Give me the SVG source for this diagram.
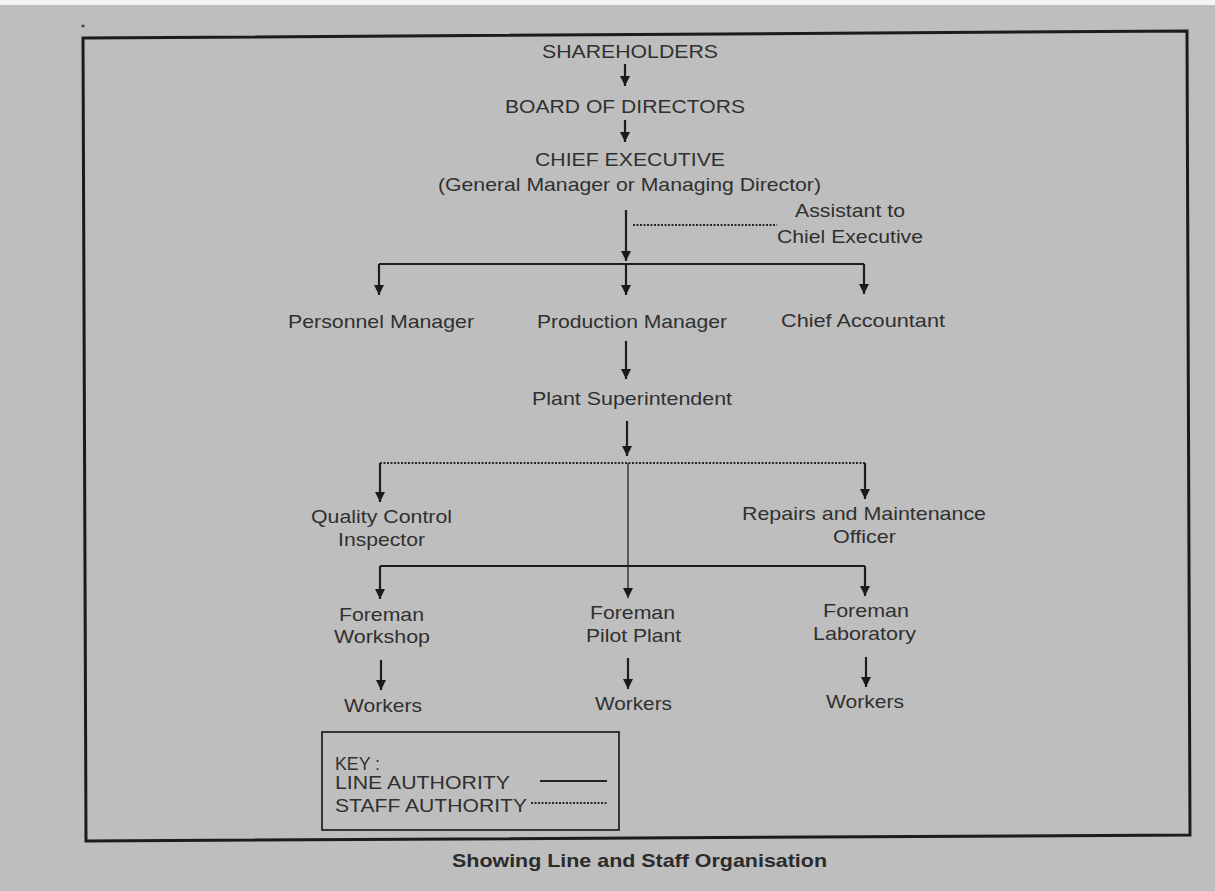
<svg xmlns="http://www.w3.org/2000/svg" width="1215" height="891" viewBox="0 0 1215 891">
<defs>
<marker id="ah" viewBox="0 0 10 10" refX="10" refY="5" markerUnits="userSpaceOnUse" markerWidth="10" markerHeight="10" orient="auto">
<path d="M0,0 L10,5 L0,10 z" fill="#1a1a1a"/>
</marker>
<style>
text{font-family:"Liberation Sans",Arial,sans-serif;font-size:18.5px;fill:#303030}
.cap{font-weight:bold;font-size:18.5px;fill:#2b2b2b}
.ln{stroke:#1e1e1e;stroke-width:2.2;fill:none}
.thin{stroke:#262626;stroke-width:1.3;fill:none}
.dot{stroke:#2a2a2a;stroke-width:2;stroke-dasharray:2 1.5;fill:none}
.arr{marker-end:url(#ah)}
.frame{fill:none;stroke:#1c1c1c;stroke-width:3}
</style>
</defs>
<rect x="0" y="0" width="1215" height="891" fill="#bebebe"/>
<rect x="0" y="0" width="1215" height="5" fill="#f4f4f4"/>
<circle cx="83" cy="26" r="1.6" fill="#444"/>
<polygon class="frame" points="83,38 1187,31 1190,835 86,841"/>

<g id="connectors">
<line class="ln arr" x1="625" y1="64" x2="625" y2="86"/>
<line class="ln arr" x1="625" y1="120" x2="625" y2="142"/>
<line class="ln arr" x1="626" y1="210" x2="626" y2="261"/>
<line class="dot" x1="633" y1="225" x2="777" y2="225"/>
<line class="ln" x1="379" y1="264" x2="864" y2="264"/>
<line class="ln arr" x1="379" y1="264" x2="379" y2="295"/>
<line class="ln arr" x1="626" y1="264" x2="626" y2="295"/>
<line class="ln arr" x1="864" y1="264" x2="864" y2="294"/>
<line class="ln arr" x1="626" y1="341" x2="626" y2="379"/>
<line class="ln arr" x1="627" y1="421" x2="627" y2="456"/>
<line class="dot" x1="380" y1="463" x2="865" y2="463"/>
<line class="ln arr" x1="380" y1="463" x2="380" y2="502"/>
<line class="ln arr" x1="865" y1="463" x2="865" y2="499"/>
<line class="thin arr" x1="628" y1="463" x2="628" y2="598"/>
<line class="ln" x1="380" y1="566" x2="865" y2="566"/>
<line class="ln arr" x1="380" y1="566" x2="380" y2="599"/>
<line class="ln arr" x1="865" y1="566" x2="865" y2="596"/>
<line class="ln arr" x1="381" y1="660" x2="381" y2="690"/>
<line class="ln arr" x1="628" y1="658" x2="628" y2="689"/>
<line class="ln arr" x1="866" y1="657" x2="866" y2="687"/>
</g>

<g id="shareholders"><text x="542" y="58" textLength="176" lengthAdjust="spacingAndGlyphs">SHAREHOLDERS</text></g>
<g id="board"><text x="505" y="113" textLength="240" lengthAdjust="spacingAndGlyphs">BOARD OF DIRECTORS</text></g>
<g id="chief-executive">
<text x="535" y="166" textLength="190" lengthAdjust="spacingAndGlyphs">CHIEF EXECUTIVE</text>
<text x="438" y="191" textLength="383" lengthAdjust="spacingAndGlyphs">(General Manager or Managing Director)</text>
</g>
<g id="assistant">
<text x="795" y="217" textLength="110" lengthAdjust="spacingAndGlyphs">Assistant to</text>
<text x="777" y="243" textLength="146" lengthAdjust="spacingAndGlyphs">Chiel Executive</text>
</g>
<g id="personnel-manager"><text x="288" y="328" textLength="186" lengthAdjust="spacingAndGlyphs">Personnel Manager</text></g>
<g id="production-manager"><text x="537" y="328" textLength="190" lengthAdjust="spacingAndGlyphs">Production Manager</text></g>
<g id="chief-accountant"><text x="781" y="327" textLength="164" lengthAdjust="spacingAndGlyphs">Chief Accountant</text></g>
<g id="plant-superintendent"><text x="532" y="405" textLength="200" lengthAdjust="spacingAndGlyphs">Plant Superintendent</text></g>
<g id="quality-control">
<text x="311" y="523" textLength="141" lengthAdjust="spacingAndGlyphs">Quality Control</text>
<text x="338" y="546" textLength="87" lengthAdjust="spacingAndGlyphs">Inspector</text>
</g>
<g id="repairs">
<text x="742" y="520" textLength="244" lengthAdjust="spacingAndGlyphs">Repairs and Maintenance</text>
<text x="833" y="543" textLength="63" lengthAdjust="spacingAndGlyphs">Officer</text>
</g>
<g id="foreman-workshop">
<text x="339" y="621" textLength="85" lengthAdjust="spacingAndGlyphs">Foreman</text>
<text x="334" y="643" textLength="96" lengthAdjust="spacingAndGlyphs">Workshop</text>
</g>
<g id="foreman-pilot">
<text x="590" y="619" textLength="85" lengthAdjust="spacingAndGlyphs">Foreman</text>
<text x="586" y="642" textLength="95" lengthAdjust="spacingAndGlyphs">Pilot Plant</text>
</g>
<g id="foreman-lab">
<text x="823" y="617" textLength="86" lengthAdjust="spacingAndGlyphs">Foreman</text>
<text x="813" y="640" textLength="103" lengthAdjust="spacingAndGlyphs">Laboratory</text>
</g>
<g id="workers-1"><text x="344" y="712" textLength="78" lengthAdjust="spacingAndGlyphs">Workers</text></g>
<g id="workers-2"><text x="595" y="710" textLength="77" lengthAdjust="spacingAndGlyphs">Workers</text></g>
<g id="workers-3"><text x="826" y="708" textLength="78" lengthAdjust="spacingAndGlyphs">Workers</text></g>

<g id="key">
<rect x="322" y="732" width="297" height="98" fill="none" stroke="#262626" stroke-width="1.8"/>
<text x="335" y="770" textLength="45" lengthAdjust="spacingAndGlyphs">KEY :</text>
<text x="335" y="789" textLength="175" lengthAdjust="spacingAndGlyphs">LINE AUTHORITY</text>
<text x="335" y="812" textLength="192" lengthAdjust="spacingAndGlyphs">STAFF AUTHORITY</text>
<line x1="540" y1="781" x2="607" y2="781" stroke="#222" stroke-width="2"/>
<line class="dot" x1="531" y1="803" x2="607" y2="803" stroke-width="1.5"/>
</g>

<g id="caption"><text class="cap" x="452" y="867" textLength="375" lengthAdjust="spacingAndGlyphs">Showing Line and Staff Organisation</text></g>
</svg>
